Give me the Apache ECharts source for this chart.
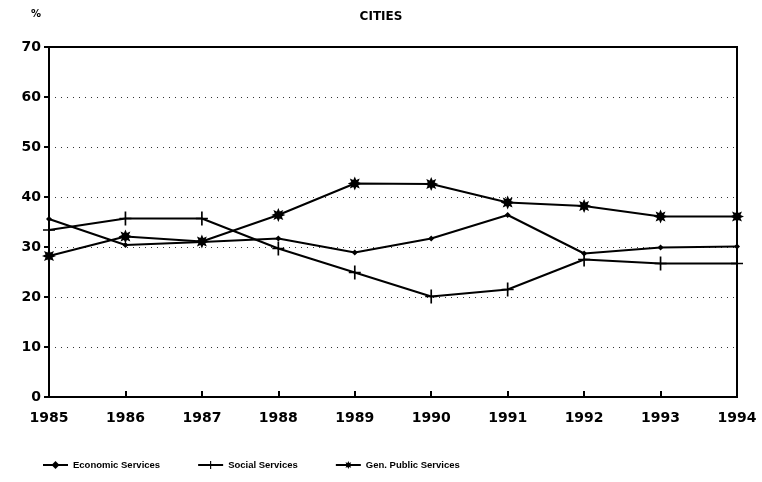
<!DOCTYPE html>
<html>
<head>
<meta charset="utf-8">
<script src="https://cdn.jsdelivr.net/npm/echarts@6/dist/echarts.min.js"></script>
<style>
    html, body { margin: 0; padding: 0; background: #fff; }
    #chart { width: 762px; height: 482px; }
</style>
</head>
<body>
<div id="chart"></div>
<script>
var categories = ["1985", "1986", "1987", "1988", "1989", "1990", "1991", "1992", "1993", "1994"];
var economic = [35.6, 30.4, 31.0, 31.7, 28.9, 31.7, 36.4, 28.7, 29.9, 30.1];
var social = [33.4, 35.7, 35.7, 29.7, 24.9, 20.1, 21.5, 27.5, 26.7, 26.7];
var genPublic = [28.2, 32.1, 31.1, 36.4, 42.7, 42.6, 38.9, 38.2, 36.1, 36.1];
var legendNames = ["Economic Services", "Social Services", "Gen. Public Services"];

// asterisk and plus markers
var starPath = 'path://M0,-1L0.21,-0.5L0.707,-0.707L0.5,-0.21L1,0L0.5,0.21L0.707,0.707L0.21,0.5L0,1L-0.21,0.5L-0.707,0.707L-0.5,0.21L-1,0L-0.5,-0.21L-0.707,-0.707L-0.21,-0.5Z';
var crossPath = 'path://M-0.14,-1L0.14,-1L0.14,-0.1L1,-0.1L1,0.1L0.14,0.1L0.14,1L-0.14,1L-0.14,0.1L-1,0.1L-1,-0.1L-0.14,-0.1Z';

var labelFont = {
    color: "#000",
    fontSize: 14,
    fontWeight: "bold",
    fontFamily: "DejaVu Sans"
};

var myChart = echarts.init(document.getElementById("chart"));
var option = {
    animation: false,
    backgroundColor: "#fff",
    title: [
        {
            text: "CITIES",
            left: 376,
            top: 6,
            textAlign: "center",
            textStyle: { color: "#000", fontSize: 12, fontWeight: "bold", fontFamily: "DejaVu Sans" }
        },
        {
            text: "%",
            left: 26,
            top: 4,
            textStyle: { color: "#000", fontSize: 10, fontWeight: "bold", fontFamily: "DejaVu Sans" }
        }
    ],
    grid: {
        left: 49,
        right: 25,
        top: 47,
        bottom: 85,
        show: true,
        borderColor: "#000",
        borderWidth: 2
    },
    legend: {
        bottom: 7,
        left: 37,
        itemWidth: 25,
        itemHeight: 10,
        itemGap: 37,
        textStyle: { color: "#000", fontSize: 9.5, fontWeight: "bold", fontFamily: "Liberation Sans" },
        data: legendNames
    },
    xAxis: {
        type: "category",
        boundaryGap: false,
        data: categories,
        axisLine: { lineStyle: { color: "#000", width: 2 } },
        axisTick: { inside: true, length: 6, lineStyle: { color: "#000", width: 2 } },
        axisLabel: Object.assign({ margin: 14 }, labelFont),
        splitLine: { show: false }
    },
    yAxis: {
        type: "value",
        min: 0,
        max: 70,
        interval: 10,
        axisLine: { show: true, lineStyle: { color: "#000", width: 2 } },
        axisTick: { show: true, length: 5, lineStyle: { color: "#000", width: 2 } },
        axisLabel: Object.assign({ margin: 8 }, labelFont),
        splitLine: {
            lineStyle: { color: "#000", type: [1, 5], width: 1, opacity: 0.8 }
        }
    },
    color: ["#000", "#000", "#000"],
    series: [
        {
            name: legendNames[0],
            type: "line",
            data: economic,
            symbol: "diamond",
            symbolSize: 6,
            lineStyle: { color: "#000", width: 2 },
            itemStyle: { color: "#000" }
        },
        {
            name: legendNames[1],
            type: "line",
            data: social,
            symbol: crossPath,
            symbolSize: [12, 14],
            lineStyle: { color: "#000", width: 2 },
            itemStyle: { color: "#000" }
        },
        {
            name: legendNames[2],
            type: "line",
            data: genPublic,
            symbol: starPath,
            symbolSize: 14,
            lineStyle: { color: "#000", width: 2 },
            itemStyle: { color: "#000" }
        }
    ]
};
myChart.setOption(option, true);
</script>
</body>
</html>
